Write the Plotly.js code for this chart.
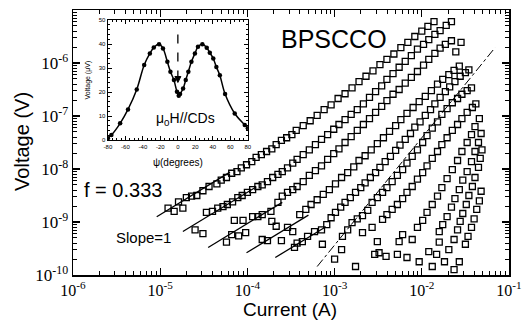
<!DOCTYPE html>
<html><head><meta charset="utf-8">
<script src="https://cdn.plot.ly/plotly-3.0.1.min.js"></script>
<style>html,body{margin:0;padding:0;background:#fff}#chart{width:522px;height:334px}</style>
</head><body><div id="chart"></div>
<script>
// ---- Data (log10 of current in A, log10 of voltage in V) ----
const c1LogI = [-4.91,-4.84,-4.74,-4.79,-4.70,-4.64,-4.58,-4.51,-4.44,-4.35,-4.30,-4.24,-4.18,-4.12,-4.07,-4.01,-3.95,-3.90,-3.84,-3.78,-3.72,-3.67,-3.61,-3.55,-3.49,-3.44,-3.36,-3.28,-3.20,-3.12,-3.04,-2.96,-2.88,-2.80,-2.72,-2.64,-2.56,-2.48,-2.40,-2.32,-2.24,-2.16,-2.08,-2.00,-1.93,-1.86];
const c1LogV = [-8.74,-8.80,-8.74,-8.62,-8.54,-8.51,-8.50,-8.41,-8.33,-8.28,-8.21,-8.16,-8.08,-8.05,-7.98,-7.92,-7.86,-7.78,-7.73,-7.67,-7.62,-7.54,-7.46,-7.41,-7.35,-7.27,-7.18,-7.09,-6.99,-6.88,-6.79,-6.67,-6.58,-6.47,-6.35,-6.25,-6.15,-6.03,-5.93,-5.83,-5.71,-5.61,-5.50,-5.40,-5.31,-5.22];

const c2LogI = [-4.60,-4.51,-4.47,-4.40,-4.34,-4.28,-4.23,-4.17,-4.11,-4.06,-4.00,-3.94,-3.88,-3.83,-3.77,-3.71,-3.65,-3.60,-3.54,-3.48,-3.43,-3.36,-3.29,-3.22,-3.15,-3.08,-3.01,-2.95,-2.88,-2.81,-2.74,-2.67,-2.60,-2.53,-2.46,-2.40,-2.33,-2.26,-2.19,-2.12,-2.05,-1.98,-1.92,-1.85,-1.79,-1.72,-1.66];
const c2LogV = [-9.15,-9.22,-8.82,-8.80,-8.74,-8.71,-8.67,-8.62,-8.54,-8.50,-8.44,-8.39,-8.33,-8.30,-8.24,-8.16,-8.10,-8.05,-7.98,-7.89,-7.82,-7.73,-7.64,-7.54,-7.44,-7.35,-7.25,-7.16,-7.07,-6.97,-6.88,-6.77,-6.65,-6.54,-6.43,-6.31,-6.20,-6.08,-5.97,-5.86,-5.74,-5.65,-5.56,-5.46,-5.39,-5.29,-5.22];

const c3LogI = [-4.24,-4.18,-4.10,-4.02,-4.15,-4.05,-3.94,-3.88,-3.83,-3.73,-3.65,-3.60,-3.54,-3.48,-3.43,-3.36,-3.29,-3.22,-3.15,-3.08,-3.01,-2.95,-2.88,-2.81,-2.74,-2.67,-2.60,-2.53,-2.46,-2.40,-2.33,-2.26,-2.19,-2.12,-2.05,-1.98,-1.92,-1.85,-1.79,-1.73,-1.66,-1.55,-1.61];
const c3LogV = [-9.38,-9.24,-9.26,-9.20,-8.97,-8.97,-8.90,-8.90,-8.86,-8.80,-8.63,-8.51,-8.44,-8.39,-8.33,-8.24,-8.12,-8.03,-7.94,-7.82,-7.71,-7.62,-7.50,-7.39,-7.27,-7.16,-7.05,-6.93,-6.82,-6.71,-6.59,-6.50,-6.38,-6.27,-6.16,-6.04,-5.93,-5.82,-5.72,-5.65,-5.58,-5.61,-5.79];

const c4LogI = [-3.83,-3.77,-3.61,-3.72,-3.67,-3.54,-3.48,-3.40,-3.33,-3.27,-3.20,-3.13,-3.06,-2.99,-2.92,-2.85,-2.78,-2.72,-2.65,-2.58,-2.51,-2.44,-2.37,-2.30,-2.24,-2.17,-2.10,-2.03,-1.96,-1.89,-1.82,-1.76,-1.69,-1.63,-1.57];
const c4LogV = [-9.33,-9.35,-9.35,-8.99,-9.08,-9.10,-9.18,-8.86,-8.76,-8.67,-8.58,-8.48,-8.39,-8.28,-8.16,-8.07,-7.96,-7.84,-7.75,-7.64,-7.52,-7.41,-7.29,-7.18,-7.07,-6.95,-6.84,-6.73,-6.63,-6.52,-6.40,-6.31,-6.22,-6.14,-6.06];

const c5LogI = [-3.46,-3.43,-3.37,-3.31,-3.23,-3.15,-3.09,-3.04,-2.99,-2.93,-2.88,-2.82,-2.76,-2.70,-2.65,-2.59,-2.53,-2.48,-2.42,-2.36,-2.30,-2.25,-2.19,-2.13,-2.08,-2.02,-1.96,-1.90,-1.85,-1.79,-1.73,-1.68,-1.62,-1.56,-1.50,-1.46];
const c5LogV = [-9.48,-9.40,-9.37,-9.27,-9.18,-9.15,-9.05,-8.92,-8.82,-8.72,-8.63,-8.54,-8.44,-8.35,-8.26,-8.16,-8.07,-7.97,-7.86,-7.76,-7.65,-7.55,-7.44,-7.33,-7.21,-7.11,-6.99,-6.88,-6.77,-6.65,-6.54,-6.45,-6.35,-6.25,-6.18,-6.13];

const c6LogI = [-3.14,-3.00,-2.92,-2.76,-2.91,-2.85,-2.80,-2.74,-2.68,-2.62,-2.57,-2.51,-2.45,-2.40,-2.34,-2.28,-2.22,-2.17,-2.11,-2.05,-1.99,-1.94,-1.88,-1.82,-1.77,-1.71,-1.65,-1.59,-1.54,-1.48,-1.43];
const c6LogV = [-9.42,-9.70,-9.52,-9.84,-9.27,-9.15,-9.01,-8.94,-8.88,-8.78,-8.63,-8.54,-8.44,-8.35,-8.24,-8.12,-8.01,-7.89,-7.76,-7.64,-7.50,-7.37,-7.23,-7.11,-6.97,-6.86,-6.75,-6.67,-6.59,-6.52,-6.47];

const c7LogI = [-2.68,-2.57,-2.51,-2.54,-2.49,-2.41,-2.45,-2.40,-2.34,-2.28,-2.22,-2.17,-2.11,-2.05,-1.99,-1.94,-1.88,-1.82,-1.77,-1.71,-1.65,-1.59,-1.54,-1.48,-1.42,-1.38];
const c7LogV = [-9.20,-9.10,-9.37,-9.61,-9.58,-9.65,-8.95,-8.86,-8.76,-8.67,-8.56,-8.44,-8.33,-8.19,-8.07,-7.94,-7.80,-7.67,-7.54,-7.41,-7.27,-7.16,-7.05,-6.93,-6.84,-6.77];

const c8LogI = [-2.28,-2.26,-2.22,-2.11,-2.17,-2.05,-1.99,-1.94,-1.88,-1.82,-1.77,-1.71,-1.65,-1.59,-1.54,-1.48,-1.43,-1.39,-1.34];
const c8LogV = [-9.61,-9.37,-9.24,-9.33,-9.67,-9.10,-8.97,-8.82,-8.67,-8.51,-8.35,-8.18,-8.01,-7.84,-7.67,-7.50,-7.35,-7.20,-7.05];

const c9LogI = [-2.03,-1.92,-1.83,-1.80,-1.80,-1.76,-1.71,-1.66,-1.62,-1.57,-1.53,-1.48,-1.43,-1.39,-1.35,-1.32];
const c9LogV = [-9.75,-9.56,-9.61,-9.38,-9.18,-9.05,-8.90,-8.72,-8.56,-8.39,-8.21,-8.05,-7.86,-7.67,-7.50,-7.33];

const c10LogI = [-1.88,-1.74,-1.69,-1.63,-1.59,-1.56,-1.53,-1.49,-1.46,-1.42,-1.39,-1.35,-1.33,-1.31];
const c10LogV = [-9.84,-9.75,-9.52,-9.33,-9.15,-8.99,-8.84,-8.67,-8.50,-8.33,-8.16,-7.97,-7.80,-7.64];

const c11LogI = [-1.63,-1.57,-1.50,-1.47,-1.43,-1.40,-1.37,-1.34,-1.32];
const c11LogV = [-9.90,-9.75,-9.42,-9.27,-9.10,-8.94,-8.76,-8.60,-8.42];

// slope = 1 guide lines (start/end, log10 units)
const slopeLinesLogI = [[-5.04,-4.20],[-4.74,-3.90],[-4.45,-3.60],[-4.01,-3.30],[-3.68,-3.10]];
const slopeLinesLogV = [[-8.90,-8.06],[-9.18,-8.34],[-9.48,-8.63],[-9.58,-8.87],[-9.67,-9.09]];
// dash-dot guide line
const dashLineLogI = [-3.20,-1.16];
const dashLineLogV = [-9.84,-5.71];

// inset: voltage (µV) vs angle psi (degrees)
const insetPsi = [-80,-76,-66,-57,-47,-38.5,-32,-27.5,-21.5,-17,-12,-8.5,-4.5,-1,1,2.5,6,9,12,15.5,19.5,23,28,33,36.5,40.5,44,48,54,65,76.5,80];
const insetV = [0.8,2.1,7,12.8,21.1,31.3,36.1,38.6,39.9,38.2,32.6,28.5,25,20.1,18.5,19.2,21.5,25,28.5,32.6,36.1,38.9,39.9,38.5,36.4,34,30.5,27,19.2,11.1,6.3,4.9];
// field-direction arrow in the inset (psi, µV)
const arrowPsi = [0, 0];
const arrowV = [44, 24];

// ticks
const xTickVals = [1e-6,1e-5,1e-4,1e-3,1e-2,1e-1];
const xTickText = ['10<sup>-6</sup>','10<sup>-5</sup>','10<sup>-4</sup>','10<sup>-3</sup>','10<sup>-2</sup>','10<sup>-1</sup>'];
const yTickVals = [1e-10,1e-9,1e-8,1e-7,1e-6,1e-5];
const yTickText = ['10<sup>-10</sup>','10<sup>-9</sup>','10<sup>-8</sup>','10<sup>-7</sup>','10<sup>-6</sup>','10<sup>-5</sup>'];
const insetXTicks = [-80,-60,-40,-20,0,20,40,60,80];
const insetXText = ['-80','-60','-40','-20','0','20','40','60','80'];
const insetYTicks = [0,10,20,30,40,50];

// ---- Build ----
const P = v => Math.pow(10, v);
const curves = [[c1LogI,c1LogV],[c2LogI,c2LogV],[c3LogI,c3LogV],[c4LogI,c4LogV],[c5LogI,c5LogV],[c6LogI,c6LogV],[c7LogI,c7LogV],[c8LogI,c8LogV],[c9LogI,c9LogV],[c10LogI,c10LogV],[c11LogI,c11LogV]];
const traces = [];
slopeLinesLogI.forEach((li, k) => {
  traces.push({type:'scatter', mode:'lines', x: li.map(P), y: slopeLinesLogV[k].map(P),
    line:{color:'#000', width:1.3}, showlegend:false, hoverinfo:'skip'});
});
traces.push({type:'scatter', mode:'lines', x: dashLineLogI.map(P), y: dashLineLogV.map(P),
  line:{color:'#000', width:1, dash:'dashdot'}, showlegend:false, hoverinfo:'skip'});
curves.forEach(([li, lv]) => {
  traces.push({type:'scatter', mode:'markers', x: li.map(P), y: lv.map(P),
    marker:{symbol:'square-open', size:6, color:'#000', line:{width:1.3, color:'#000'}},
    showlegend:false, hoverinfo:'skip'});
});
traces.push({type:'scatter', mode:'lines+markers', x: insetPsi, y: insetV, xaxis:'x2', yaxis:'y2',
  line:{color:'#000', width:1.5, shape:'spline', smoothing:1},
  marker:{symbol:'circle', size:4.5, color:'#000'}, showlegend:false, hoverinfo:'skip'});
traces.push({type:'scatter', mode:'lines', x: arrowPsi, y: arrowV, xaxis:'x2', yaxis:'y2',
  line:{color:'#000', width:1.3, dash:'dash'}, showlegend:false, hoverinfo:'skip'});
traces.push({type:'scatter', mode:'markers', x: [arrowPsi[1]], y: [arrowV[1]], xaxis:'x2', yaxis:'y2',
  marker:{symbol:'arrow-down', size:6, color:'#000', line:{width:1, color:'#000'}}, showlegend:false, hoverinfo:'skip'});

const ax = {showline:true, linecolor:'#000', mirror:'allticks', ticks:'inside', tickcolor:'#000',
  showgrid:false, zeroline:false, automargin:false};
const txt = (s, x, y, size, extra) => Object.assign({text:s, xref:'paper', yref:'paper', x:x, y:y,
  xanchor:'center', yanchor:'middle', showarrow:false,
  font:{family:'Liberation Sans', size:size, color:'#000'}}, extra || {});
const layout = {
  width:522, height:334, margin:{l:73, r:13, t:10, b:59},
  paper_bgcolor:'#fff', plot_bgcolor:'#fff', showlegend:false,
  font:{family:'Liberation Sans, Arial, sans-serif', color:'#000'},
  xaxis: Object.assign({}, ax, {type:'log', range:[-6,-1], linewidth:1.5,
    tickmode:'array', tickvals:xTickVals, ticktext:xTickText, ticklen:7, tickwidth:1.2,
    tickfont:{family:'Liberation Serif', size:16, color:'#000'},
    minor:{ticks:'inside', ticklen:4, tickwidth:1, tickcolor:'#000', dtick:'D1'}}),
  yaxis: Object.assign({}, ax, {type:'log', range:[-10,-5], linewidth:1.5,
    tickmode:'array', tickvals:yTickVals, ticktext:yTickText, ticklen:7, tickwidth:1.2,
    tickfont:{family:'Liberation Serif', size:17, color:'#000'},
    minor:{ticks:'inside', ticklen:4, tickwidth:1, tickcolor:'#000', dtick:'D1'}}),
  xaxis2: Object.assign({}, ax, {domain:[0.080,0.401], anchor:'y2', range:[-80,80], linewidth:1.3,
    tickmode:'array', tickvals:insetXTicks, ticktext:insetXText, ticklen:4, tickwidth:1,
    tickfont:{family:'Liberation Sans', size:6, color:'#000'},
    minor:{ticks:'inside', dtick:5, ticklen:2, tickwidth:1, tickcolor:'#000'},
    title:{text:'ψ(degrees)', font:{family:'Liberation Sans', size:10, color:'#000'}, standoff:10}}),
  yaxis2: Object.assign({}, ax, {domain:[0.509,0.962], anchor:'x2', range:[0,50], linewidth:1.3,
    tickmode:'array', tickvals:insetYTicks, ticklen:4, tickwidth:1,
    tickfont:{family:'Liberation Sans', size:6, color:'#000'},
    minor:{ticks:'inside', dtick:2, ticklen:2, tickwidth:1, tickcolor:'#000'},
    title:{text:'Voltage (μV)', font:{family:'Liberation Sans', size:7, color:'#000'}, standoff:7}}),
  annotations:[
    txt('Current (A)', 0.498, -0.132, 19),
    txt('Voltage (V)', -0.117, 0.506, 20, {textangle:-90}),
    txt('BPSCCO', 0.599, 0.891, 25),
    txt('f = 0.333', 0.115, 0.321, 20),
    txt('Slope=1', 0.162, 0.142, 15),
    txt('μ<sub>0</sub>H//CDs', 0.257, 0.589, 14)
  ]
};
Plotly.newPlot('chart', traces, layout, {staticPlot:true, displayModeBar:false});
</script>
</body></html>
